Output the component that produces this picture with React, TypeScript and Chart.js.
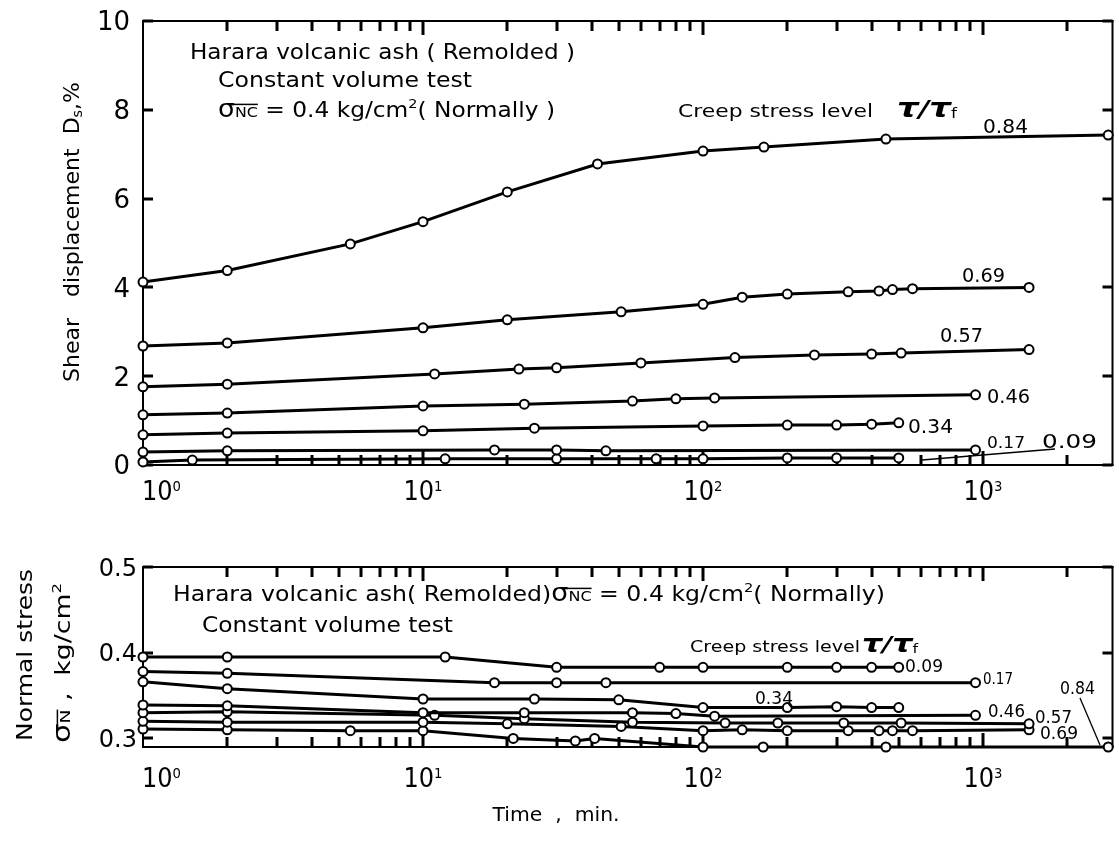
import React, { useEffect, useRef } from 'react';
import { Chart, registerables } from 'chart.js';

Chart.register(...registerables);

const FONT = '"DejaVu Sans", "Liberation Sans", sans-serif';

// ---------- Upper panel: shear displacement Ds (%) vs time (min) ----------
const dispT084 = [1, 2, 5.5, 10, 20, 42, 100, 165, 450, 2800];
const dispV084 = [4.12, 4.38, 4.98, 5.48, 6.15, 6.78, 7.07, 7.16, 7.34, 7.43];
const dispT069 = [1, 2, 10, 20, 51, 100, 138, 200, 330, 425, 475, 560, 1460];
const dispV069 = [2.68, 2.75, 3.09, 3.27, 3.45, 3.62, 3.78, 3.85, 3.9, 3.92, 3.95, 3.97, 4.0];
const dispT057 = [1, 2, 11, 22, 30, 60, 130, 250, 400, 510, 1460];
const dispV057 = [1.76, 1.82, 2.05, 2.16, 2.19, 2.3, 2.42, 2.48, 2.5, 2.52, 2.6];
const dispT046 = [1, 2, 10, 23, 56, 80, 110, 940];
const dispV046 = [1.13, 1.17, 1.33, 1.37, 1.44, 1.49, 1.51, 1.58];
const dispT034 = [1, 2, 10, 25, 100, 200, 300, 400, 500];
const dispV034 = [0.68, 0.72, 0.77, 0.83, 0.88, 0.9, 0.9, 0.92, 0.95];
const dispT017 = [1, 2, 18, 30, 45, 940];
const dispV017 = [0.29, 0.32, 0.34, 0.34, 0.32, 0.34];
const dispT009 = [1, 1.5, 12, 30, 68, 100, 200, 300, 500];
const dispV009 = [0.07, 0.11, 0.14, 0.14, 0.14, 0.14, 0.16, 0.16, 0.16];

// ---------- Lower panel: normal stress (kg/cm2) vs time (min) ----------
const normT009 = [1, 2, 12, 30, 70, 100, 200, 300, 400, 500];
const normV009 = [0.395, 0.395, 0.395, 0.383, 0.383, 0.383, 0.383, 0.383, 0.383, 0.383];
const normT017 = [1, 2, 18, 30, 45, 940];
const normV017 = [0.378, 0.376, 0.365, 0.365, 0.365, 0.365];
const normT034 = [1, 2, 10, 25, 50, 100, 200, 300, 400, 500];
const normV034 = [0.366, 0.358, 0.346, 0.346, 0.345, 0.336, 0.336, 0.337, 0.336, 0.336];
const normT046 = [1, 2, 10, 23, 56, 80, 110, 940];
const normV046 = [0.339, 0.338, 0.33, 0.33, 0.33, 0.329, 0.326, 0.327];
const normT057 = [1, 2, 11, 23, 56, 120, 185, 318, 510, 1460];
const normV057 = [0.33, 0.331, 0.327, 0.323, 0.319, 0.318, 0.318, 0.318, 0.318, 0.317];
const normT069 = [1, 2, 10, 20, 51, 100, 138, 200, 330, 425, 475, 560, 1460];
const normV069 = [0.32, 0.319, 0.319, 0.317, 0.314, 0.309, 0.31, 0.309, 0.309, 0.309, 0.309, 0.309, 0.31];
const normT084 = [1, 2, 5.5, 10, 21, 35, 41, 100, 164, 450, 2800];
const normV084 = [0.311, 0.31, 0.309, 0.309, 0.3, 0.297, 0.3, 0.29, 0.29, 0.29, 0.29];

// ---------- axes / tick labels ----------
const stressLevelLabels = ['0.09', '0.17', '0.34', '0.46', '0.57', '0.69', '0.84'];
const xMin = 1;
const xMax = 2900;
const xDecades = [1, 10, 100, 1000];
const xDecadeExps = ['0', '1', '2', '3'];
const xMinorMult = [2, 3, 4, 5, 6, 7, 8, 9];
const dispYTicks = [0, 2, 4, 6, 8, 10];
const dispYTickLabels = ['0', '2', '4', '6', '8', '10'];
const normYTicks = [0.3, 0.4, 0.5];
const normYTickLabels = ['0.3', '0.4', '0.5'];

type Seg = { t: string; s?: number; dy?: number; it?: boolean; b?: boolean; over?: boolean };
type TextItem = {
  segs: Seg[];
  x: number;
  y: number;
  size: number;
  width?: number;
  align?: 'left' | 'center' | 'right';
  rotate?: boolean;
};

function drawRich(ctx: CanvasRenderingContext2D, item: TextItem, offY: number) {
  const { segs, x, y, size, width, align = 'left', rotate } = item;
  ctx.save();
  const fonts = segs.map(
    (sg) => `${sg.it ? 'italic ' : ''}${sg.b ? 'bold ' : ''}${(sg.s ?? 1) * size}px ${FONT}`
  );
  const widths = segs.map((sg, i) => {
    ctx.font = fonts[i];
    return ctx.measureText(sg.t).width;
  });
  const total = widths.reduce((a, b) => a + b, 0);
  const k = width ? width / total : 1;
  ctx.translate(x, y - offY);
  if (rotate) ctx.rotate(-Math.PI / 2);
  ctx.scale(k, 1);
  let cx = align === 'left' ? 0 : align === 'center' ? -total / 2 : -total;
  ctx.fillStyle = '#000';
  ctx.strokeStyle = '#000';
  ctx.textBaseline = 'alphabetic';
  ctx.textAlign = 'left';
  segs.forEach((sg, i) => {
    ctx.font = fonts[i];
    const dy = (sg.dy ?? 0) * size;
    ctx.fillText(sg.t, cx, dy);
    if (sg.over) {
      ctx.lineWidth = 1.5;
      ctx.beginPath();
      ctx.moveTo(cx - 3, -0.6 * size);
      ctx.lineTo(cx + widths[i], -0.6 * size);
      ctx.stroke();
    }
    cx += widths[i];
  });
  ctx.restore();
}

const sigmaNC: Seg[] = [
  { t: 'σ', s: 1.15 },
  { t: 'NC', s: 0.68, over: true },
  { t: ' = 0.4 kg/cm' },
  { t: '2', s: 0.62, dy: -0.45 },
];
const tauRatio: Seg[] = [
  { t: 'τ', s: 1.0, it: true, b: true },
  { t: '/', s: 0.85, it: true, b: true },
  { t: 'τ', s: 1.0, it: true, b: true },
  { t: 'f', s: 0.5, dy: 0.05 },
];

const topTexts: TextItem[] = [
  { segs: [{ t: 'Harara volcanic ash ( Remolded )' }], x: 190, y: 58.5, size: 21, width: 385 },
  { segs: [{ t: 'Constant volume test' }], x: 218, y: 87, size: 21, width: 254 },
  { segs: [...sigmaNC, { t: '( Normally )' }], x: 218, y: 117, size: 21, width: 337 },
  { segs: [{ t: 'Creep stress level' }], x: 678, y: 117, size: 17, width: 195 },
  { segs: tauRatio, x: 897, y: 117, size: 27, width: 60 },
  { segs: [{ t: stressLevelLabels[6] }], x: 983, y: 133, size: 19, width: 45 },
  { segs: [{ t: stressLevelLabels[5] }], x: 962, y: 282, size: 19, width: 43 },
  { segs: [{ t: stressLevelLabels[4] }], x: 940, y: 342, size: 19, width: 43 },
  { segs: [{ t: stressLevelLabels[3] }], x: 987, y: 403, size: 19, width: 43 },
  { segs: [{ t: stressLevelLabels[2] }], x: 908, y: 433, size: 19, width: 45 },
  { segs: [{ t: stressLevelLabels[1] }], x: 987, y: 448, size: 16, width: 38 },
  { segs: [{ t: stressLevelLabels[0] }], x: 1042, y: 448, size: 19, width: 55 },
  {
    segs: [{ t: 'Shear   displacement  D' }, { t: 's', s: 0.65, dy: 0.15 }, { t: ',%' }],
    x: 79,
    y: 232,
    size: 21,
    width: 300,
    align: 'center',
    rotate: true,
  },
];

const bottomTexts: TextItem[] = [
  {
    segs: [{ t: 'Harara volcanic ash( Remolded)' }, ...sigmaNC, { t: '( Normally)' }],
    x: 173,
    y: 601,
    size: 21,
    width: 712,
  },
  { segs: [{ t: 'Constant volume test' }], x: 202, y: 632, size: 21, width: 251 },
  { segs: [{ t: 'Creep stress level' }], x: 690, y: 652, size: 16, width: 170 },
  { segs: tauRatio, x: 862, y: 652, size: 25, width: 56 },
  { segs: [{ t: stressLevelLabels[0] }], x: 905, y: 672, size: 17, width: 38 },
  { segs: [{ t: stressLevelLabels[1] }], x: 983, y: 684, size: 15, width: 30 },
  { segs: [{ t: stressLevelLabels[2] }], x: 755, y: 704, size: 17, width: 38 },
  { segs: [{ t: stressLevelLabels[3] }], x: 988, y: 717, size: 17, width: 37 },
  { segs: [{ t: stressLevelLabels[4] }], x: 1035, y: 723, size: 17, width: 37 },
  { segs: [{ t: stressLevelLabels[5] }], x: 1040, y: 739, size: 17, width: 38 },
  { segs: [{ t: stressLevelLabels[6] }], x: 1060, y: 694, size: 17, width: 35 },
  { segs: [{ t: 'Normal stress' }], x: 32, y: 655, size: 21, width: 172, align: 'center', rotate: true },
  {
    segs: [{ t: 'σ', s: 1.15 }, { t: 'N', s: 0.7, over: true }, { t: ' ,  kg/cm' }, { t: '2', s: 0.62, dy: -0.45 }],
    x: 70,
    y: 663,
    size: 21,
    width: 160,
    align: 'center',
    rotate: true,
  },
  { segs: [{ t: 'Time  ,  min.' }], x: 556, y: 821, size: 19, width: 127, align: 'center' },
];

type PanelCfg = {
  offY: number;
  yTicks: number[];
  yTickLabels: string[];
  yLabelRight: number;
  yLabelSize: number;
  xLabelBaseline: number;
  texts: TextItem[];
  leaders: number[][];
};

function drawFrame(chart: any) {
  const ctx: CanvasRenderingContext2D = chart.ctx;
  const a = chart.chartArea;
  ctx.save();
  ctx.fillStyle = '#000';
  const w = a.right - a.left;
  const h = a.bottom - a.top;
  ctx.fillRect(a.left - 1, a.top - 1, w + 2, 2);
  ctx.fillRect(a.left - 1, a.bottom - 1, w + 2, 2);
  ctx.fillRect(a.left - 1, a.top - 1, 2, h + 2);
  ctx.fillRect(a.right - 1, a.top - 1, 2, h + 2);
  ctx.restore();
}

function drawTicks(chart: any, yTicks: number[]) {
  const ctx: CanvasRenderingContext2D = chart.ctx;
  const a = chart.chartArea;
  const xs = chart.scales.x;
  const ysc = chart.scales.y;
  ctx.save();
  ctx.fillStyle = '#000';
  const tickList: number[] = [];
  const majorList: boolean[] = [];
  for (let i = 0; i < xDecades.length; i++) {
    tickList.push(xDecades[i]);
    majorList.push(true);
    for (let j = 0; j < xMinorMult.length; j++) {
      tickList.push(xDecades[i] * xMinorMult[j]);
      majorList.push(false);
    }
  }
  for (let i = 0; i < tickList.length; i++) {
    const v = tickList[i];
    if (v <= xMin || v >= xMax) continue;
    const px = Math.round(xs.getPixelForValue(v));
    const len = majorList[i] ? 14 : 10;
    ctx.fillRect(px - 1.5, a.top, 3, len);
    ctx.fillRect(px - 1.5, a.bottom - len, 3, len);
  }
  for (let i = 0; i < yTicks.length; i++) {
    const py = Math.round(ysc.getPixelForValue(yTicks[i]));
    ctx.fillRect(a.left, py - 1.5, 10, 3);
    ctx.fillRect(a.right - 10, py - 1.5, 10, 3);
  }
  ctx.restore();
}

function makePlugin(cfg: PanelCfg) {
  return {
    id: 'panelDecor' + cfg.offY,
    beforeDatasetsDraw(chart: any) {
      drawFrame(chart);
      drawTicks(chart, cfg.yTicks);
    },
    afterDraw(chart: any) {
      const ctx = chart.ctx;
      const a = chart.chartArea;
      const x = chart.scales.x;
      const y = chart.scales.y;
      cfg.yTicks.forEach((v, i) => {
        const py = y.getPixelForValue(v);
        drawRich(
          ctx,
          {
            segs: [{ t: cfg.yTickLabels[i] }],
            x: cfg.yLabelRight,
            y: py + cfg.offY + 0.36 * cfg.yLabelSize,
            size: cfg.yLabelSize,
            align: 'right',
          },
          cfg.offY
        );
      });
      xDecades.forEach((d, i) => {
        const px = x.getPixelForValue(d);
        drawRich(
          ctx,
          {
            segs: [{ t: '10' }, { t: xDecadeExps[i], s: 0.55, dy: -0.33 }],
            x: i === 0 ? a.left - 1 : px,
            y: cfg.xLabelBaseline,
            size: 27,
            width: 39,
            align: i === 0 ? 'left' : 'center',
          },
          cfg.offY
        );
      });
      cfg.texts.forEach((t) => drawRich(ctx, t, cfg.offY));
      ctx.save();
      ctx.strokeStyle = '#000';
      ctx.lineWidth = 1.3;
      cfg.leaders.forEach((l) => {
        ctx.beginPath();
        ctx.moveTo(l[0], l[1] - cfg.offY);
        ctx.lineTo(l[2], l[3] - cfg.offY);
        ctx.stroke();
      });
      ctx.restore();
    },
  };
}

function series(ts: number[], vs: number[]) {
  return ts.map((t, i) => ({ x: t, y: vs[i] }));
}

function ds(ts: number[], vs: number[], label: string) {
  return {
    label,
    data: series(ts, vs),
    borderColor: '#000',
    borderWidth: 3,
    pointRadius: 4.5,
    pointBorderWidth: 2,
    pointBackgroundColor: '#fff',
    pointBorderColor: '#000',
    tension: 0,
    clip: false as const,
  };
}

function buildConfig(
  datasets: any[],
  yMin: number,
  yMax: number,
  padding: { left: number; right: number; top: number; bottom: number },
  cfg: PanelCfg
): any {
  return {
    type: 'line',
    data: { datasets },
    options: {
      animation: false,
      responsive: false,
      maintainAspectRatio: false,
      devicePixelRatio: 1,
      layout: { padding },
      plugins: { legend: { display: false }, tooltip: { enabled: false } },
      scales: {
        x: { type: 'logarithmic', min: xMin, max: xMax, display: false },
        y: { type: 'linear', min: yMin, max: yMax, display: false },
      },
    },
    plugins: [makePlugin(cfg)],
  };
}

function PanelCanvas({ top, height, config }: { top: number; height: number; config: () => any }) {
  const ref = useRef<HTMLCanvasElement>(null);
  useEffect(() => {
    const chart = new Chart(ref.current as HTMLCanvasElement, config());
    return () => chart.destroy();
  }, []);
  return (
    <canvas
      ref={ref}
      width={1119}
      height={height}
      style={{ position: 'absolute', left: 0, top, width: 1119, height }}
    />
  );
}

const topConfig = () =>
  buildConfig(
    [
      ds(dispT084, dispV084, stressLevelLabels[6]),
      ds(dispT069, dispV069, stressLevelLabels[5]),
      ds(dispT057, dispV057, stressLevelLabels[4]),
      ds(dispT046, dispV046, stressLevelLabels[3]),
      ds(dispT034, dispV034, stressLevelLabels[2]),
      ds(dispT017, dispV017, stressLevelLabels[1]),
      ds(dispT009, dispV009, stressLevelLabels[0]),
    ],
    0,
    10,
    { left: 143, right: 2, top: 21, bottom: 55 },
    {
      offY: 0,
      yTicks: dispYTicks,
      yTickLabels: dispYTickLabels,
      yLabelRight: 130,
      yLabelSize: 26,
      xLabelBaseline: 500,
      texts: topTexts,
      leaders: [[922, 460, 1055, 449]],
    }
  );

const bottomConfig = () =>
  buildConfig(
    [
      ds(normT009, normV009, stressLevelLabels[0]),
      ds(normT017, normV017, stressLevelLabels[1]),
      ds(normT034, normV034, stressLevelLabels[2]),
      ds(normT046, normV046, stressLevelLabels[3]),
      ds(normT057, normV057, stressLevelLabels[4]),
      ds(normT069, normV069, stressLevelLabels[5]),
      ds(normT084, normV084, stressLevelLabels[6]),
    ],
    0.29,
    0.5,
    { left: 143, right: 2, top: 47, bottom: 97 },
    {
      offY: 520,
      yTicks: normYTicks,
      yTickLabels: normYTickLabels,
      yLabelRight: 137,
      yLabelSize: 24,
      xLabelBaseline: 787,
      texts: bottomTexts,
      leaders: [
        [1080, 698, 1100, 745],
        [788, 703, 791, 707],
      ],
    }
  );

export default function App() {
  return (
    <div style={{ position: 'absolute', left: 0, top: 0, width: 1119, height: 844, background: '#fff' }}>
      <PanelCanvas top={0} height={520} config={topConfig} />
      <PanelCanvas top={520} height={324} config={bottomConfig} />
    </div>
  );
}
